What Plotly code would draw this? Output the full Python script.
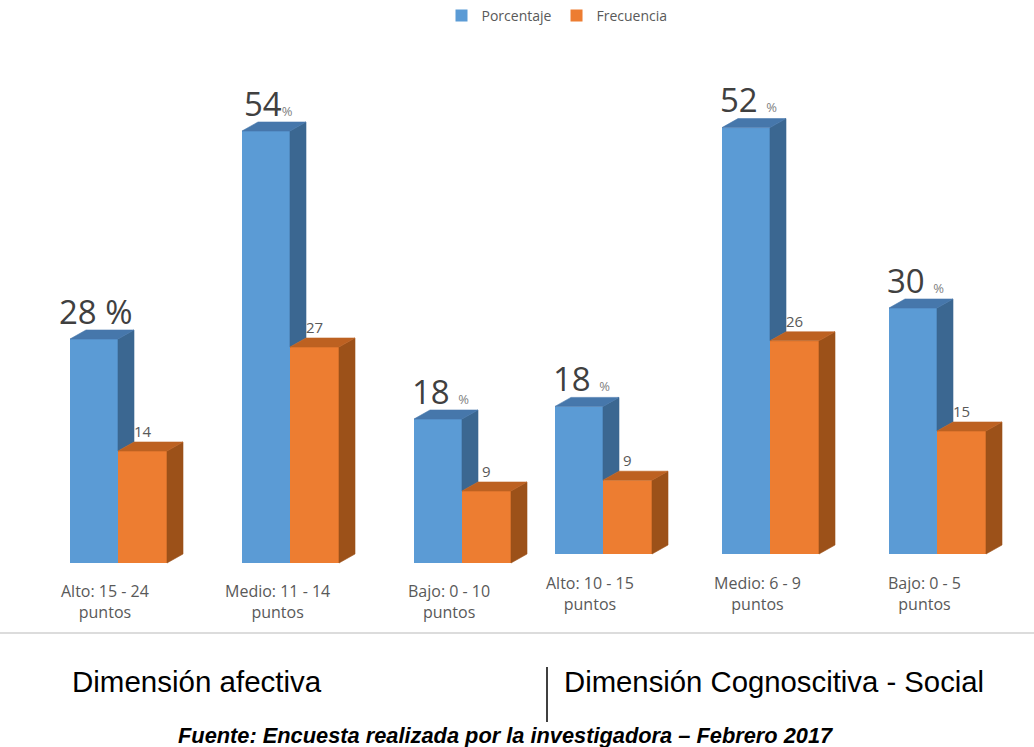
import plotly.graph_objects as go

# ---------------- data ----------------
cats_left = ["Alto: 15 - 24<br>puntos", "Medio: 11 - 14<br>puntos", "Bajo: 0 - 10<br>puntos"]
pct_left = [28, 54, 18]
freq_left = [14, 27, 9]
pct_sep_left = [" ", "", " "]          # separator before the % sign
pct_bigsign_left = [True, False, False]

cats_right = ["Alto: 10 - 15<br>puntos", "Medio: 6 - 9<br>puntos", "Bajo: 0 - 5<br>puntos"]
pct_right = [18, 52, 30]
freq_right = [9, 26, 15]
pct_sep_right = [" ", " ", " "]
pct_bigsign_right = [False, False, False]

series_names = ["Porcentaje", "Frecuencia"]
dimension_titles = ["Dimensión afectiva", "Dimensión Cognoscitiva - Social"]
source_text = "Fuente: Encuesta realizada por la investigadora – Febrero 2017"

# ---------------- styling ----------------
W, H = 1034, 747
BLUE, BLUE_SIDE, BLUE_TOP = "#5b9bd5", "#3b6791", "#4677ab"
ORANGE, ORANGE_SIDE, ORANGE_TOP = "#ed7d31", "#9c5119", "#bd6121"
GRAY = "#595959"
SANS = "Open Sans, Liberation Sans"

charts = [
    dict(cats=cats_left, pct=pct_left, freq=freq_left, sep=pct_sep_left, big=pct_bigsign_left,
         xa="x", ya="y", base_px=563, bnd0=118, step=172, ppu=8.0, label_y=601, legend=True),
    dict(cats=cats_right, pct=pct_right, freq=freq_right, sep=pct_sep_right, big=pct_bigsign_right,
         xa="x2", ya="y2", base_px=554, bnd0=603, step=167, ppu=8.2, label_y=593, legend=False),
]

fig = go.Figure()
annotations = []
layout_axes = {}

def poly_trace(polys, color, xa, ya):
    xs, ys = [], []
    for p in polys:
        for (a, b) in p:
            xs.append(a); ys.append(b)
        xs.append(p[0][0]); ys.append(p[0][1])
        xs.append(None); ys.append(None)
    return go.Scatter(x=xs, y=ys, fill="toself", fillcolor=color, mode="lines",
                      line=dict(color=color, width=0.6), hoverinfo="skip",
                      showlegend=False, xaxis=xa, yaxis=ya)

for ci, c in enumerate(charts):
    step, ppu = c["step"], c["ppu"]
    wb, wo = 48 / step, 49 / step
    dx, dy = 16 / step, 9 / ppu
    idx = list(range(len(c["cats"])))
    xa, ya = c["xa"], c["ya"]

    # front faces
    fig.add_trace(go.Bar(x=idx, y=c["pct"], width=wb, offset=-wb, marker=dict(color=BLUE, line=dict(width=0)),
                         name=series_names[0], showlegend=c["legend"], xaxis=xa, yaxis=ya, hoverinfo="skip"))
    fig.add_trace(go.Bar(x=idx, y=c["freq"], width=wo, offset=0, marker=dict(color=ORANGE, line=dict(width=0)),
                         name=series_names[1], showlegend=c["legend"], xaxis=xa, yaxis=ya, hoverinfo="skip"))

    blue_side, blue_top, or_side, or_top = [], [], [], []
    for i, p, f in zip(idx, c["pct"], c["freq"]):
        b = i
        blue_side.append([(b, f), (b + dx, f + dy), (b + dx, p + dy), (b, p)])
        blue_top.append([(b - wb, p), (b, p), (b + dx, p + dy), (b - wb + dx, p + dy)])
        or_side.append([(b + wo, 0), (b + wo + dx, dy), (b + wo + dx, f + dy), (b + wo, f)])
        or_top.append([(b, f), (b + wo, f), (b + wo + dx, f + dy), (b + dx, f + dy)])
    fig.add_trace(poly_trace(blue_side, BLUE_SIDE, xa, ya))
    fig.add_trace(poly_trace(blue_top, BLUE_TOP, xa, ya))
    fig.add_trace(poly_trace(or_side, ORANGE_SIDE, xa, ya))
    fig.add_trace(poly_trace(or_top, ORANGE_TOP, xa, ya))

    # axes
    xr = [(0 - c["bnd0"]) / step, (W - c["bnd0"]) / step]
    yr = [(c["base_px"] - H) / ppu, c["base_px"] / ppu]
    sfx = "" if ci == 0 else "2"
    layout_axes["xaxis" + sfx] = dict(domain=[0, 1], range=xr, visible=False, fixedrange=True,
                                      anchor="y" + sfx)
    layout_axes["yaxis" + sfx] = dict(domain=[0, 1], range=yr, visible=False, fixedrange=True,
                                      anchor="x" + sfx)

    # labels
    for i, p, f, cat, sep, big in zip(idx, c["pct"], c["freq"], c["cats"], c["sep"], c["big"]):
        sign = "%" if big else "<span style='font-size:13px;color:#7f7f7f'>%</span>"
        annotations.append(dict(xref=xa, yref=ya, x=i - wb / 2 + (2 / step), y=p, yanchor="middle",
                                yshift=28, text=f"{p}{sep}{sign}", showarrow=False,
                                font=dict(family=SANS, size=33, color="#404040")))
        annotations.append(dict(xref=xa, yref=ya, x=i + wo / 2, y=f, yanchor="middle",
                                yshift=20, text=str(f), showarrow=False,
                                font=dict(family=SANS, size=15, color=GRAY)))
        annotations.append(dict(xref=xa, yref="paper", x=i, xshift=-13, y=1 - c["label_y"] / H,
                                yanchor="middle", text=cat, showarrow=False,
                                font=dict(family=SANS, size=16, color=GRAY)))

# bottom texts
annotations.append(dict(xref="paper", yref="paper", x=70 / W, y=1 - 681 / H, xanchor="left", yanchor="middle",
                        text=dimension_titles[0], showarrow=False,
                        font=dict(family="Liberation Sans, Arial", size=29.5, color="#000000")))
annotations.append(dict(xref="paper", yref="paper", x=562 / W, y=1 - 681 / H, xanchor="left", yanchor="middle",
                        text=dimension_titles[1], showarrow=False,
                        font=dict(family="Liberation Sans, Arial", size=29.3, color="#000000")))
annotations.append(dict(xref="paper", yref="paper", x=505 / W, y=1 - 735 / H, xanchor="center", yanchor="middle",
                        text=f"<b><i>{source_text}</i></b>", showarrow=False,
                        font=dict(family="Liberation Sans, Arial", size=21.8, color="#000000")))

shapes = [
    dict(type="line", xref="paper", yref="paper", x0=0, x1=1, y0=1 - 633 / H, y1=1 - 633 / H,
         line=dict(color="#dcdcdc", width=2)),
    dict(type="line", xref="paper", yref="paper", x0=547 / W, x1=547 / W, y0=1 - 667 / H, y1=1 - 722 / H,
         line=dict(color="#000000", width=1.5)),
]

fig.update_layout(
    width=W, height=H, autosize=False,
    margin=dict(l=0, r=0, t=0, b=0),
    paper_bgcolor="white", plot_bgcolor="rgba(0,0,0,0)",
    barmode="overlay",
    showlegend=True,
    legend=dict(orientation="h", x=557 / W, xanchor="center", y=1 - 16 / H, yanchor="middle",
                font=dict(family=SANS, size=14, color=GRAY),
                bgcolor="rgba(0,0,0,0)", itemwidth=30, tracegroupgap=0),
    annotations=annotations,
    shapes=shapes,
    **layout_axes,
)

fig.write_html("out.html", config={"displayModeBar": False, "staticPlot": True},
               post_script="document.body.style.margin='0px';document.body.style.overflow='hidden';")
